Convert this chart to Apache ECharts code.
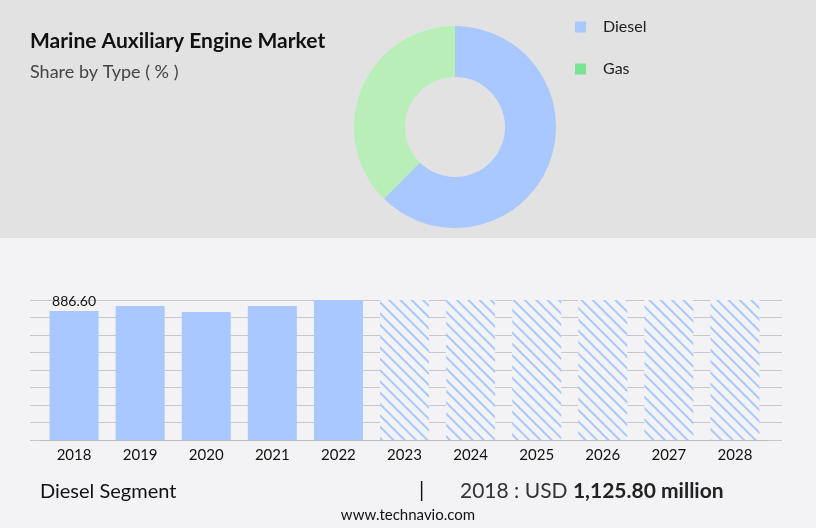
<!DOCTYPE html><html><head><meta charset="utf-8"><script src="https://cdn.jsdelivr.net/npm/echarts@6/dist/echarts.min.js"></script>
<style>body{margin:0}#c{width:816px;height:528px}</style></head><body><div id="c"></div><script>
const years=['2018','2019','2020','2021','2022','2023','2024','2025','2026','2027','2028'];
const values=[886.6,921,880,921,962,962,962,962,962,962,962];
const forecastFrom=5;
const shareNames=['Diesel','Gas'];
const shareValues=[62.4,37.6];
const F='Lato, "Open Sans", sans-serif';
const c=echarts.init(document.getElementById('c'));
c.setOption({animation:false,
graphic:[
{type:'rect',z:-10,shape:{x:0,y:0,width:816,height:238},style:{fill:'#e2e2e2'}},
{type:'rect',z:-10,shape:{x:0,y:238,width:816,height:290},style:{fill:'#f3f3f5'}},
{type:'text',left:30,top:31,style:{text:'Marine Auxiliary Engine Market',font:'bold 21px '+F,fill:'#111'}},
{type:'text',left:30,top:63,style:{text:'Share by Type ( % )',font:'18px '+F,fill:'#444'}},
{type:'text',left:40,top:482,style:{text:'Diesel Segment',font:'20px '+F,fill:'#111'}},
{type:'text',left:419,top:480,style:{text:'|',font:'21px '+F,fill:'#111'}},
{type:'text',left:460,top:481,style:{rich:{a:{font:'21px '+F,fill:'#333'},b:{font:'bold 21px '+F,fill:'#222'}},text:'{a|2018 : USD }{b|1,125.80 million}'}},
{type:'text',left:'center',top:508,style:{text:'www.technavio.com',font:'15px '+F,fill:'#111'}}
],
legend:{data:[{name:'Diesel',itemStyle:{color:'#a8c8ff'}},{name:'Gas',itemStyle:{color:'#78e496'}}],orient:'vertical',left:570,top:14,itemWidth:11,itemHeight:11,itemGap:26,icon:'rect',textStyle:{fontFamily:F,fontSize:16,color:'#222',padding:[0,0,0,12]}},
grid:[{left:41,right:48,top:300,height:140},{left:30,right:34,top:300,height:140}],
xAxis:[{type:'category',data:years,axisTick:{show:false},axisLine:{lineStyle:{color:'#bbb'}},axisLabel:{fontFamily:F,fontSize:15,color:'#111',margin:8}},
{type:'value',gridIndex:1,show:false}],
yAxis:[{type:'value',min:0,max:962,interval:120.25,axisLabel:{show:false},axisTick:{show:false},axisLine:{show:false},splitLine:{show:false}},
{type:'value',gridIndex:1,min:0,max:962,interval:120.25,axisLabel:{show:false},axisTick:{show:false},axisLine:{show:false},splitLine:{lineStyle:{color:'#c8c8c8'}},z:0}],
series:[
{type:'pie',radius:[50,101],center:[455,127],startAngle:90,clockwise:true,label:{show:false},emphasis:{disabled:true},
 data:shareNames.map((n,i)=>({name:n,value:shareValues[i],itemStyle:{color:i?'#b8eeb8':'#a8c8ff'}}))},
{type:'bar',barWidth:49,z:3,data:values.map((v,i)=>i<forecastFrom?{value:v,itemStyle:{color:'#a8c8ff'},label:{show:i===0}}:{value:v,itemStyle:{color:'rgba(0,0,0,0)',decal:{symbol:'rect',color:'#a8c8ff',backgroundColor:'#f3f3f5',dashArrayX:[1,0],dashArrayY:[1.2,5.5],rotation:Math.PI/4}}}),
 label:{position:'top',distance:2,fontFamily:F,fontSize:14,color:'#111',formatter:p=>p.value.toFixed(2)}}
]});
</script></body></html>
